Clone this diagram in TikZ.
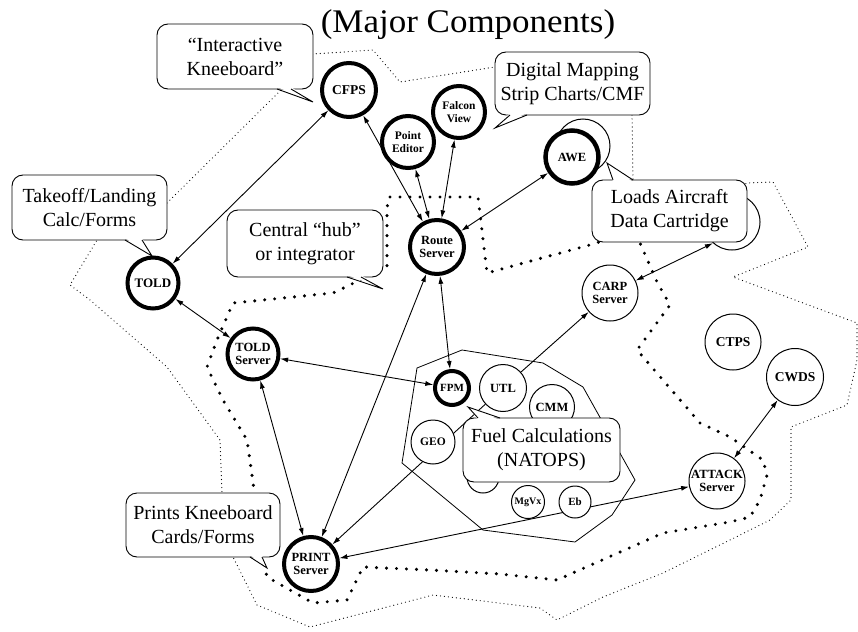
\documentclass[tikz,border=0pt]{standalone}
\usepackage{fontspec}
\setmainfont{Liberation Serif}
\usetikzlibrary{arrows.meta,calc}
\pgfdeclarelayer{bg}
\pgfdeclarelayer{lines}
\pgfsetlayers{bg,lines,main}
\newcommand\ctail[4]{\fill[white] ($(#1)+(#4)$) -- (#2) -- ($(#3)+(#4)$) -- cycle; \draw[cline] (#1) -- (#2) -- (#3);}
\begin{document}
\begin{tikzpicture}[x=1pt,y=-1pt,
  tcirc/.style={circle, draw, line width=4pt, fill=white, minimum size=#1, inner sep=0pt, align=center, font=\fontsize{12.5}{13}\selectfont\bfseries},
  ncirc/.style={circle, draw, line width=1pt, fill=white, minimum size=#1, inner sep=0pt, align=center, font=\fontsize{12.5}{13}\selectfont\bfseries},
  cline/.style={line width=0.9pt},
  callout/.style={draw, line width=0.9pt, fill=white, rounded corners=11pt, inner sep=0pt, align=center, font=\fontsize{20}{24}\selectfont},
  darr/.style={line width=0.9pt, {Latex[length=8pt,width=5pt]}-{Latex[length=8pt,width=5pt]}},
  sarr/.style={line width=0.9pt, -{Latex[length=8pt,width=5pt]}},
  finedot/.style={line width=1.2pt, dash pattern=on 0pt off 4pt, line cap=round},
  bolddot/.style={line width=3.4pt, dash pattern=on 0pt off 10pt, line cap=round}]
\useasboundingbox (0,0) rectangle (858,631);

% dotted boundaries
\begin{pgfonlayer}{bg}
\fill[white] (0,0) rectangle (858,631);
\draw[finedot] (167,203) -- (282,89) -- (313,54) -- (373,50) -- (400,82) -- (495,67) -- (632,115) -- (633,180) -- (690,215) -- (747,183) -- (773,182) -- (808,247) -- (733,277) -- (857,323) -- (857,360) -- (847,405) -- (791,427) -- (791,500) -- (770,520) -- (730,540) -- (663,573) -- (603,597) -- (557,620) -- (540,608) -- (433,595) -- (310,627) -- (257,605) -- (233,557) -- (222,493) -- (220,440) -- (167,367) -- (90,300) -- (70,285) -- (97,240) -- cycle;
\draw[bolddot] (390,197) -- (478,197) -- (487,273) -- (597,243) -- (620,230) -- (640,243) -- (657,282) -- (670,305) -- (637,350) -- (700,423) -- (730,437) -- (763,460) -- (767,475) -- (760,500) -- (750,517) -- (730,522) -- (663,533) -- (557,580) -- (500,574) -- (430,570) -- (363,567) -- (347,600) -- (313,603) -- (267,577) -- (262,557) -- (253,482) -- (247,440) -- (223,400) -- (207,367) -- (217,340) -- (233,303) -- (333,293) -- (387,267) -- (387,207) -- cycle;
\draw[line width=0.8pt] (417,368) -- (462,350) -- (543,363) -- (583,387) -- (635,480) -- (612,515) -- (575,542) -- (483,530) -- (402,463) -- cycle;
\end{pgfonlayer}

% title
\node[font=\fontsize{33}{35}\selectfont] (title) at (468,25) {\scalebox{1.06}[1]{(Major Components)}};

% circles
\node[ncirc=54] (aweshadow) at (583,146) {};
\node[ncirc=56] (cart) at (732,222) {};
\node[tcirc=54, font=\fontsize{13.5}{14}\selectfont\bfseries] (cfps) at (349,90) {CFPS};
\node[tcirc=52, font=\fontsize{11.5}{12.5}\selectfont\bfseries] (pted) at (408,142) {Point\\Editor};
\node[tcirc=52, font=\fontsize{11.5}{12.5}\selectfont\bfseries] (falcon) at (459,112) {Falcon\\View};
\node[tcirc=53, line width=4.5pt] (awe) at (572,157) {AWE};
\node[tcirc=54] (route) at (437,247) {Route\\Server};
\node[tcirc=51, font=\fontsize{13}{14}\selectfont\bfseries] (told) at (153,283) {TOLD};
\node[tcirc=51] (toldsrv) at (253,354) {TOLD\\Server};
\node[tcirc=34, font=\fontsize{11}{12}\selectfont\bfseries] (fpm) at (452,388) {FPM};
\node[ncirc=47] (utl) at (503,388) {UTL};
\node[ncirc=45] (cmm) at (552,407) {CMM};
\node[ncirc=44, font=\fontsize{11.5}{12}\selectfont\bfseries] (geo) at (433,442) {GEO};
\node[ncirc=32] (hidc) at (483,477) {};
\node[ncirc=33, font=\fontsize{10}{10}\selectfont\bfseries] (mgvx) at (528,502) {MgVx};
\node[ncirc=32, font=\fontsize{11}{11}\selectfont\bfseries] (eb) at (575,502) {Eb};
\node[ncirc=56] (carp) at (610,293) {CARP\\Server};
\node[ncirc=56, font=\fontsize{13.5}{14}\selectfont\bfseries] (ctps) at (733,342) {CTPS};
\node[ncirc=57, font=\fontsize{13.5}{14}\selectfont\bfseries] (cwds) at (795,377) {CWDS};
\node[ncirc=56] (attack) at (717,481) {ATTACK\\Server};
\node[tcirc=54] (print) at (311,564) {PRINT\\Server};

% connectors
\begin{pgfonlayer}{lines}
\draw[darr] (told) -- (cfps);
\draw[darr] (cfps) -- (route);
\draw[darr] (pted) -- (route);
\draw[darr] (falcon) -- (route);
\draw[darr] (awe) -- (route);
\draw[darr] (route) -- (fpm);
\draw[darr] (route) -- (print);
\draw[darr] (told) -- (toldsrv);
\draw[darr] (toldsrv) -- (fpm);
\draw[darr] (toldsrv) -- (print);
\draw[sarr] (utl) -- (print);
\draw[sarr] (utl) -- (carp);
\draw[darr] (carp) -- (cart.228);
\draw[darr] (print) -- (attack);
\draw[darr] (attack) -- (cwds);
\end{pgfonlayer}

% callouts
\node[callout, minimum width=156pt, minimum height=65pt] (c1) at (235,56.5) {“Interactive\\Kneeboard”};
\ctail{277,89}{313,102}{291,89}{0,-2}
\node[callout, minimum width=155pt, minimum height=65pt] (c2) at (89.5,207.5) {Takeoff/Landing\\Calc/Forms};
\ctail{125,240}{152,256}{142,240}{0,-2}
\node[callout, minimum width=156pt, minimum height=67pt] (c3) at (305,243.5) {Central “hub”\\or integrator};
\ctail{347,277}{383,289}{361,277}{0,-2}
\node[callout, minimum width=155pt, minimum height=63pt] (c4) at (572.5,83.5) {Digital Mapping\\Strip Charts/CMF};
\ctail{510,115}{495,128}{527,115}{0,-2}
\node[callout, minimum width=155pt, minimum height=62pt] (c5) at (669.5,211) {Loads Aircraft\\Data Cartridge};
\ctail{613,180}{607,163}{633,180}{0,2}
\node[callout, minimum width=157pt, minimum height=64pt] (c6) at (541.5,450) {Fuel Calculations\\(NATOPS)};
\ctail{478,418}{468,407}{500,418}{0,2}
\node[callout, minimum width=154pt, minimum height=64pt] (c7) at (203,525) {Prints Kneeboard\\Cards/Forms};
\ctail{250,557}{267,568}{262,557}{0,-2}
\end{tikzpicture}
\end{document}
